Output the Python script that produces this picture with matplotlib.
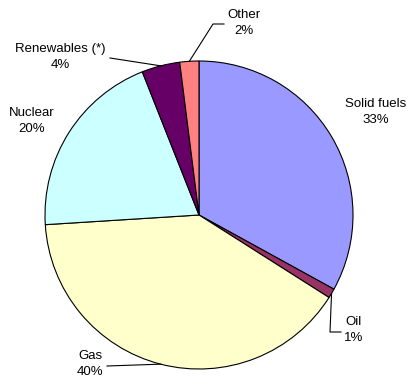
import numpy as np
import matplotlib.pyplot as plt

plt.rcParams['font.family'] = ['Liberation Sans', 'DejaVu Sans']

# energy mix shares, clockwise from the top
fontes = ["Solid fuels", "Oil", "Gas", "Nuclear", "Renewables (*)", "Other"]
valores = [33, 1, 40, 20, 4, 2]
cores = ["#9999FF", "#993366", "#FFFFCC", "#CCFFFF", "#660066", "#FF8080"]

# label placement in pixels (text centre, elbow points of the leader line)
pos_texto = {
    "Solid fuels": (376, 112),
    "Oil": (354, 330),
    "Gas": (90, 364),
    "Nuclear": (32, 121),
    "Renewables (*)": (60, 57),
    "Other": (244, 23),
}
guias = {
    "Oil": [(330, 332), (341, 332)],
    "Gas": [(107, 366)],
    "Renewables (*)": [(110, 58)],
    "Other": [(213, 24), (224, 24)],
}

cx, cy, r = 199, 215, 154

fig = plt.figure(figsize=(4.1, 3.85), dpi=100)
ax = fig.add_axes([0, 0, 1, 1])

wedges, _ = ax.pie(valores, colors=cores, startangle=-90, counterclock=True,
                   center=(cx, cy), radius=r,
                   wedgeprops=dict(edgecolor="black", linewidth=0.8))
ax.set_xlim(0, 410)
ax.set_ylim(385, 0)
ax.set_aspect("equal")
ax.axis("off")

for w, nome, v in zip(wedges, fontes, valores):
    tx, ty = pos_texto[nome]
    ax.text(tx, ty, f"{nome}\n{v}%", ha="center", va="center",
            fontsize=9.5, linespacing=1.55)
    if nome in guias:
        ang = np.deg2rad((w.theta1 + w.theta2) / 2)
        x0 = cx + r * np.cos(ang)
        y0 = cy + r * np.sin(ang)
        pts = [(x0, y0)] + guias[nome]
        ax.plot([p[0] for p in pts], [p[1] for p in pts], color="black", lw=0.8)

fig.savefig("out.png", dpi=100, facecolor="white")
